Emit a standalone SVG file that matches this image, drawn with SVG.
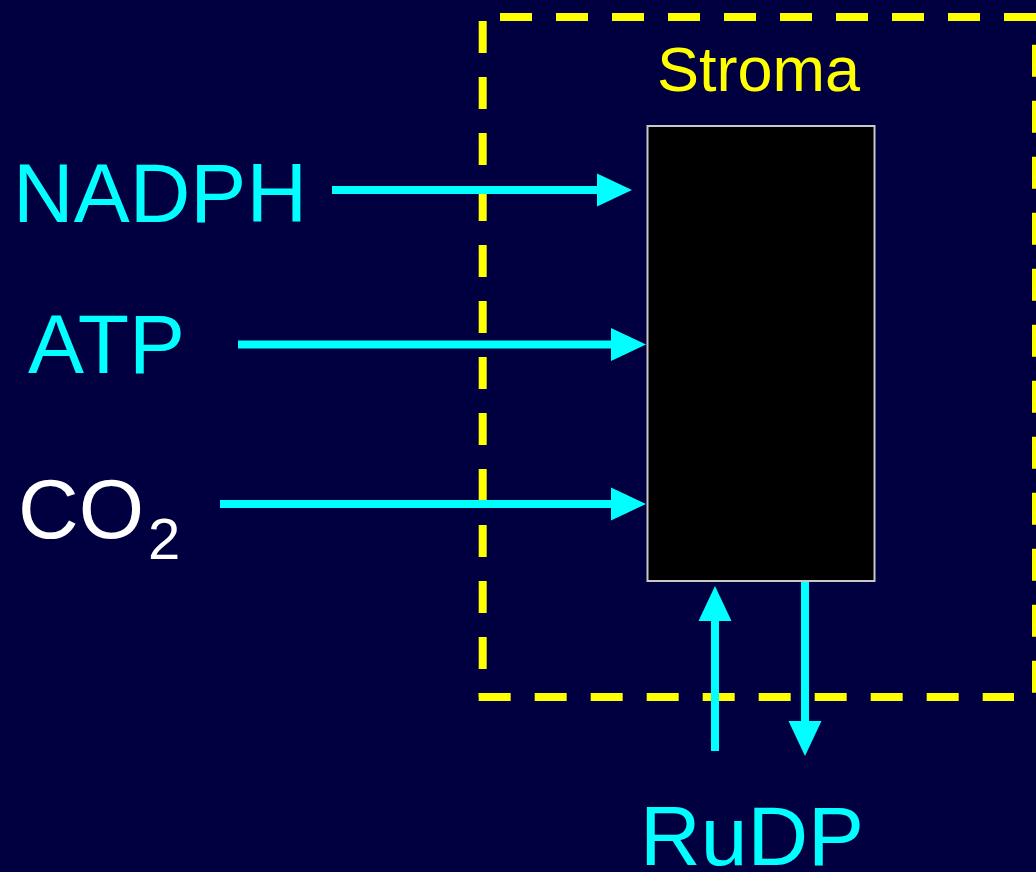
<svg xmlns="http://www.w3.org/2000/svg" width="1036" height="872" viewBox="0 0 1036 872">
  <style>
    .lbl { font-family: "Liberation Sans", Arial, sans-serif; }
    .cyan { fill: #00ffff; }
    .dash { stroke: #ffff00; stroke-width: 8; stroke-dasharray: 32 24; fill: none; }
    .conn { stroke: #00ffff; stroke-width: 8; fill: none; }
  </style>
  <defs>
    <marker id="ah" markerUnits="userSpaceOnUse" markerWidth="36" markerHeight="34" refX="0" refY="16.5" orient="auto" viewBox="0 0 36 33">
      <path d="M0,0 L35,16.5 L0,33 z" fill="#00ffff"/>
    </marker>
  </defs>
  <rect width="1036" height="872" fill="#000040"/>

  <g id="stroma">
    <line class="dash" x1="482.7" y1="21" x2="482.7" y2="697"/>
    <line class="dash" x1="500" y1="17" x2="1040" y2="17"/>
    <line class="dash" x1="478.7" y1="697" x2="1014" y2="697"/>
    <line class="dash" x1="1036" y1="44.7" x2="1036" y2="692.7"/>
    <text class="lbl" x="657" y="91" font-size="63" fill="#ffff00">Stroma</text>
  </g>

  <g id="cycle">
    <rect x="647.5" y="126" width="227" height="455" fill="#000000" stroke="#c8c8c8" stroke-width="2"/>
  </g>

  <g id="nadph"><text class="lbl cyan" x="13" y="222" font-size="84">NADPH</text></g>
  <g id="atp"><text class="lbl cyan" x="28" y="373" font-size="84">ATP</text></g>
  <g id="co2"><text class="lbl" x="18" y="538" font-size="84" fill="#ffffff">CO<tspan x="148" y="559" font-size="58">2</tspan></text></g>
  <g id="rudp"><text class="lbl cyan" x="640" y="865" font-size="84">RuDP</text></g>

  <g id="connectors">
    <line class="conn" x1="332" y1="190" x2="597" y2="190" marker-end="url(#ah)"/>
    <line class="conn" x1="238" y1="344.5" x2="611" y2="344.5" marker-end="url(#ah)"/>
    <line class="conn" x1="220" y1="504" x2="611" y2="504" marker-end="url(#ah)"/>
    <line class="conn" x1="715" y1="751" x2="715" y2="621" marker-end="url(#ah)"/>
    <line class="conn" x1="805" y1="582" x2="805" y2="721" marker-end="url(#ah)"/>
  </g>
</svg>
